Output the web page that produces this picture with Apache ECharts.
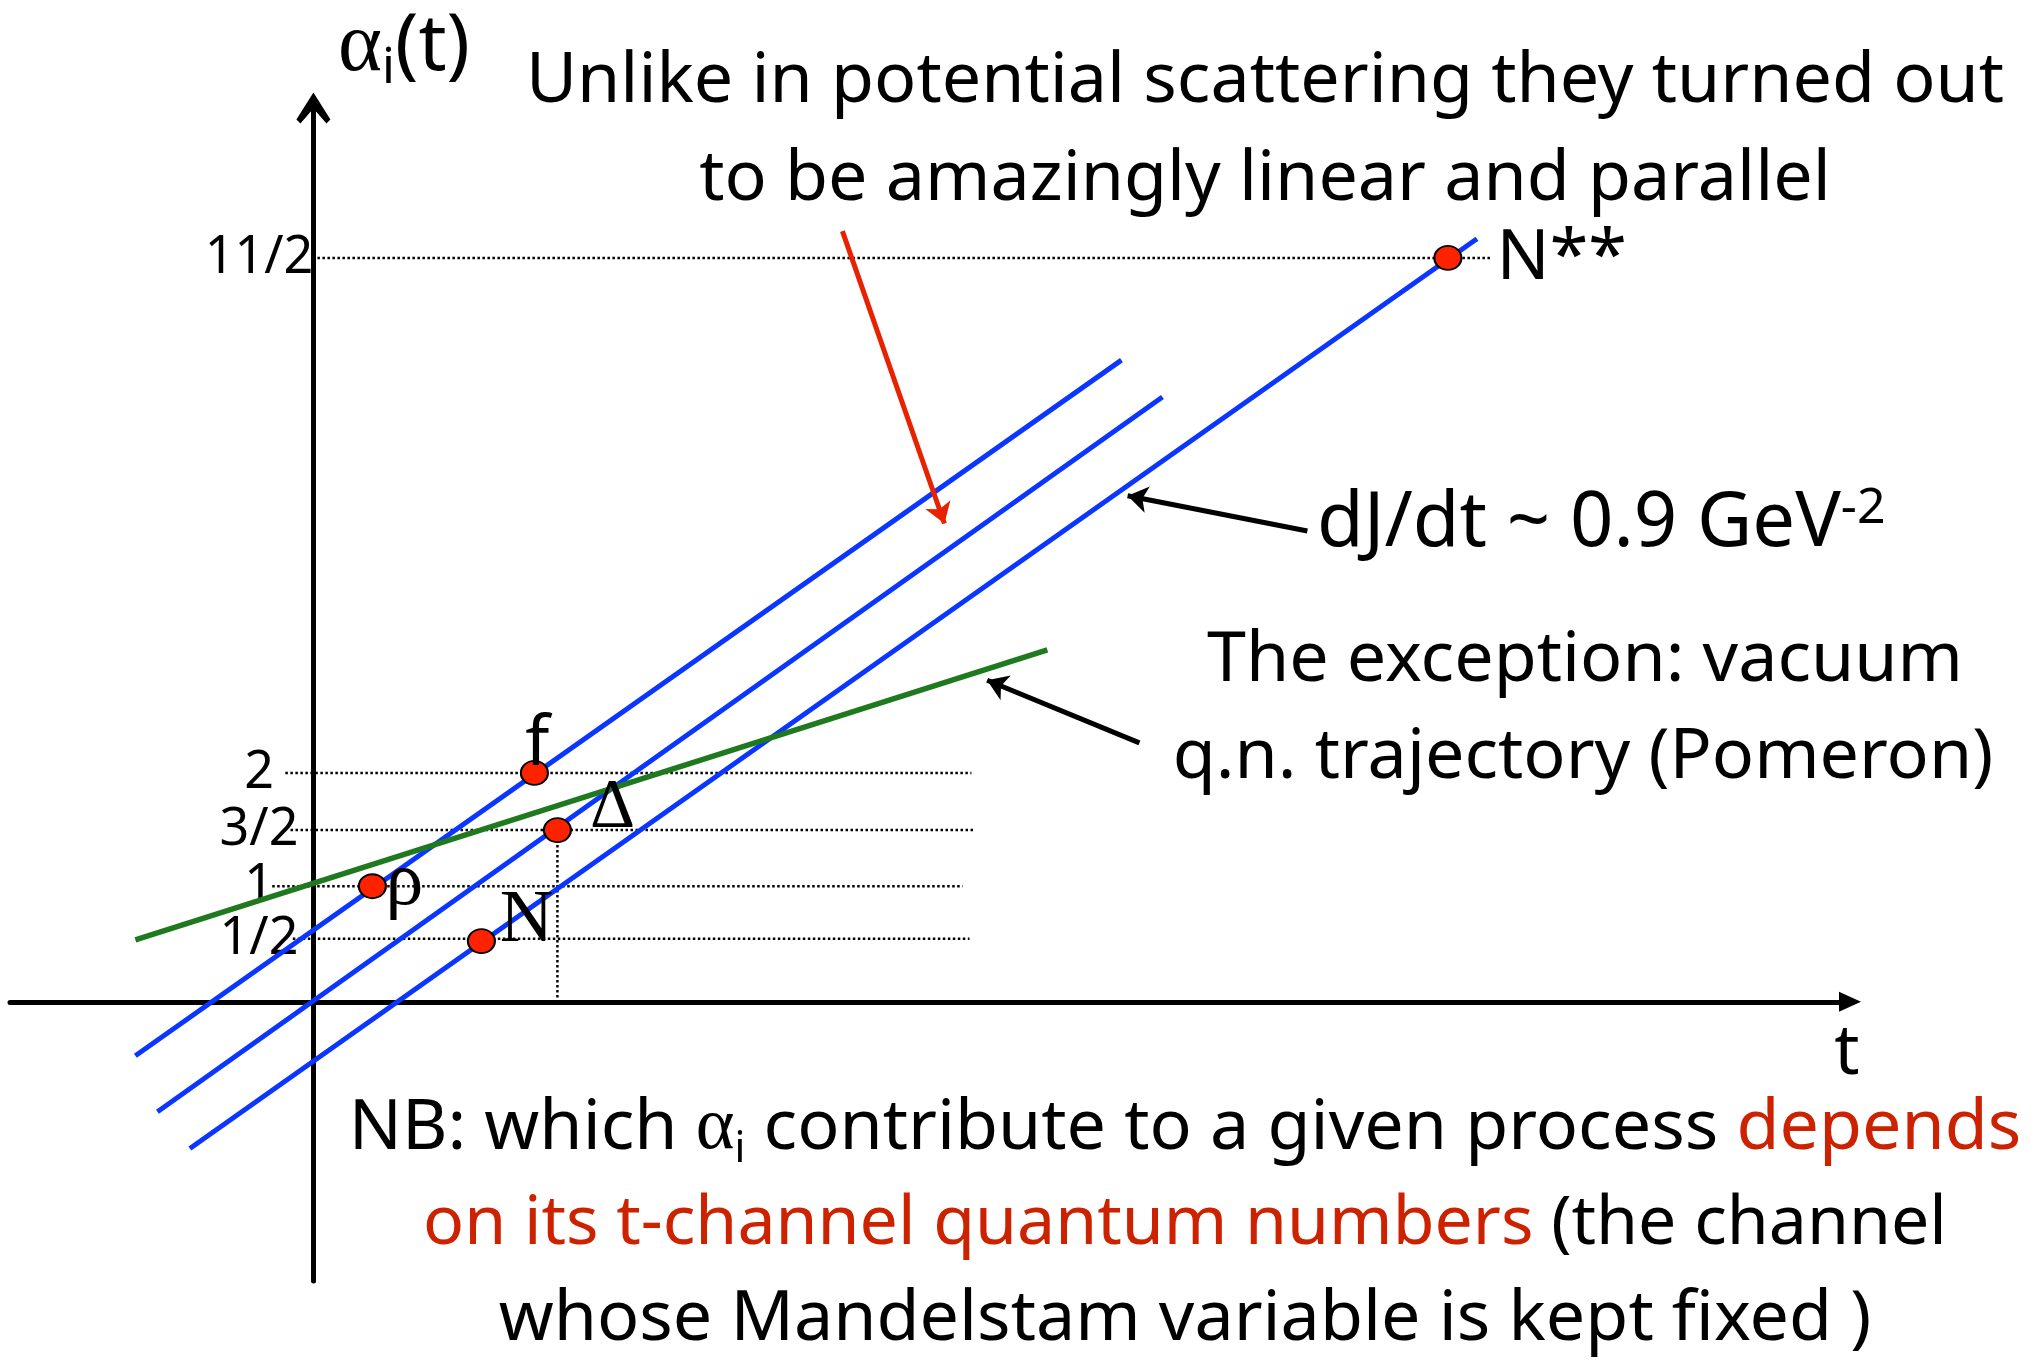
<!DOCTYPE html>
<html>
<head>
<meta charset="utf-8">
<script src="https://cdn.jsdelivr.net/npm/echarts@6/dist/echarts.min.js"></script>
<style>html,body{margin:0;padding:0;background:#fff}#chart{width:2039px;height:1363px}</style>
</head>
<body>
<div id="chart"></div>
<script>
// y ticks (positions as they sit in the sketch) and their labels
var tickVals = [0.55, 1.01, 1.5, 2.0, 6.5];
var tickText = ['1/2', '1', '3/2', '2', '11/2'];
// dotted guide lines, start / end t for each tick
var guideStart = [-0.18, -0.36, -0.20, -0.245, 0.035];
var guideEnd = [5.73, 5.67, 5.78, 5.747, 10.28];
var deltaDrop = [[2.131, 1.5], [2.131, 0]];

// trajectories
var trajA = [[-1.555, -0.472], [7.057, 5.607]];   // rho, f
var trajB = [[-1.362, -0.961], [7.415, 5.284]];   // Delta
var trajC = [[-1.079, -1.282], [10.162, 6.668]];  // N, N**
var pomeron = [[-1.555, 0.541], [6.41, 3.074]];

// resonances
var ptNames = ['f', 'Δ', 'ρ', 'N', 'N**'];
var ptT = [1.93, 2.131, 0.515, 1.467, 9.908];
var ptJ = [2.0, 1.5, 1.01, 0.53, 6.5];

// annotation arrows
var redArrow = [[4.62, 6.734], [5.511, 4.179]];
var slopeArrow = [[8.681, 4.114], [7.111, 4.422]];
var pomArrow = [[7.214, 2.262], [5.884, 2.809]];

var SANS = 'Noto Sans';
var SERIF = 'Liberation Serif';

var labelStyle = {
    'f': { position: 'inside', offset: [3, -28], fontFamily: SANS, fontSize: 70 },
    'Δ': { position: 'inside', offset: [55, -22], fontFamily: SERIF, fontSize: 70 },
    'ρ': { position: 'inside', offset: [32, -2], fontFamily: SERIF, fontSize: 76 },
    'N': { position: 'inside', offset: [45, -20], fontFamily: SERIF, fontSize: 74 },
    'N**': { position: 'right', distance: 34, offset: [0, 1], fontFamily: SANS, fontSize: 70 }
};

var chart = echarts.init(document.getElementById('chart'));

var series = [];
tickVals.forEach(function (v, i) {
    series.push({
        type: 'line', data: [[guideStart[i], v], [guideEnd[i], v]],
        showSymbol: false, silent: true, z: 1,
        lineStyle: { color: '#000', width: 2.5, type: 'dotted' }
    });
});
series.push({
    type: 'line', data: deltaDrop, showSymbol: false, silent: true, z: 1,
    lineStyle: { color: '#000', width: 2.5, type: 'dotted' }
});
[trajA, trajB, trajC].forEach(function (d) {
    series.push({
        type: 'line', data: d, showSymbol: false, silent: true, z: 3,
        lineStyle: { color: '#0a36ff', width: 5 }
    });
});
series.push({
    type: 'line', data: pomeron, showSymbol: false, silent: true, z: 3,
    lineStyle: { color: '#1f7a1f', width: 5.5 }
});
series.push({
    type: 'lines', coordinateSystem: 'cartesian2d', silent: true, z: 4,
    symbol: ['none', 'arrow'], symbolSize: 20,
    lineStyle: { color: '#e82200', width: 5, opacity: 1 },
    data: [{ coords: redArrow }]
});
series.push({
    type: 'lines', coordinateSystem: 'cartesian2d', silent: true, z: 4,
    symbol: ['none', 'arrow'], symbolSize: 20,
    lineStyle: { color: '#000', width: 5, opacity: 1 },
    data: [{ coords: slopeArrow }, { coords: pomArrow }]
});
series.push({
    type: 'scatter', z: 5, silent: true,
    symbol: 'circle', symbolSize: [27, 24],
    itemStyle: { color: '#ff2200', borderColor: '#000', borderWidth: 2, opacity: 1 },
    data: ptNames.map(function (n, i) {
        return {
            name: n, value: [ptT[i], ptJ[i]],
            label: Object.assign({ show: true, formatter: n, color: '#000', align: n === 'N**' ? 'left' : 'center' }, labelStyle[n])
        };
    })
});

var txt = { fontFamily: SANS, fontSize: 70, lineHeight: 78, fill: '#000' };

var option = {
    animation: false,
    backgroundColor: '#fff',
    grid: { left: 10, right: 189, top: 108, bottom: 82, containLabel: false, outerBoundsMode: 'none' },
    xAxis: {
        type: 'value', min: -2.65, max: 13.42,
        axisLine: { onZero: true, symbol: ['none', 'triangle'], symbolSize: [20, 22], lineStyle: { color: '#000', width: 5 } },
        axisTick: { show: false }, axisLabel: { show: false }, splitLine: { show: false }
    },
    yAxis: {
        type: 'value', min: -2.44, max: 7.81,
        axisLine: {
            onZero: true,
            symbol: ['none', 'path://M17,0 L34,27 L30,31 L17,16 L4,31 L0,27 Z'],
            symbolSize: [34, 32],
            lineStyle: { color: '#000', width: 5 }
        },
        axisTick: { show: false }, splitLine: { show: false },
        axisLabel: {
            customValues: tickVals,
            formatter: function (v) { return tickText[tickVals.indexOf(v)]; },
            // labels stay at the grid edge, so pull them in next to the zero line
            align: 'center', margin: -249, color: '#000',
            fontFamily: SANS, fontSize: 52, hideOverlap: false
        }
    },
    series: series,
    graphic: [
        {
            type: 'text', x: 404, y: 48, z: 10,
            style: {
                text: '{a|α}{s|i}{p|(t)}', align: 'center', verticalAlign: 'middle',
                rich: {
                    a: { fontFamily: SERIF, fontSize: 84, lineHeight: 92, fill: '#000' },
                    s: { fontFamily: SANS, fontSize: 50, lineHeight: 50, verticalAlign: 'bottom', fill: '#000' },
                    p: { fontFamily: SANS, fontSize: 78, lineHeight: 92, fill: '#000' }
                }
            }
        },
        { type: 'text', x: 1265, y: 82, style: Object.assign({ text: 'Unlike in potential scattering they turned out', align: 'center', verticalAlign: 'middle' }, txt) },
        { type: 'text', x: 1265, y: 180, style: Object.assign({ text: 'to be amazingly linear and parallel', align: 'center', verticalAlign: 'middle' }, txt) },
        {
            type: 'text', x: 1317, y: 524,
            style: {
                text: '{m|dJ/dt ~ 0.9 GeV}{u|-2}', align: 'left', verticalAlign: 'middle',
                rich: {
                    m: { fontFamily: SANS, fontSize: 76, lineHeight: 80, fill: '#000' },
                    u: { fontFamily: SANS, fontSize: 50, lineHeight: 50, verticalAlign: 'top', fill: '#000' }
                }
            }
        },
        { type: 'text', x: 1585, y: 661, style: Object.assign({ text: 'The exception: vacuum', align: 'center', verticalAlign: 'middle' }, txt) },
        { type: 'text', x: 1583, y: 758, style: Object.assign({ text: 'q.n. trajectory (Pomeron)', align: 'center', verticalAlign: 'middle' }, txt) },
        { type: 'text', x: 1847, y: 1054, style: { text: 't', fontFamily: SANS, fontSize: 70, fill: '#000', align: 'center', verticalAlign: 'middle' } },
        {
            type: 'text', x: 1185, y: 1129,
            style: {
                text: '{b|NB: which }{a|α}{s|i}{b| contribute to a given process }{r|depends}',
                align: 'center', verticalAlign: 'middle',
                rich: {
                    b: { fontFamily: SANS, fontSize: 70, lineHeight: 84, fill: '#000' },
                    r: { fontFamily: SANS, fontSize: 70, lineHeight: 84, fill: '#cc2200' },
                    a: { fontFamily: SERIF, fontSize: 74, lineHeight: 84, fill: '#000' },
                    s: { fontFamily: SANS, fontSize: 42, lineHeight: 46, fill: '#000', verticalAlign: 'bottom' }
                }
            }
        },
        {
            type: 'text', x: 1185, y: 1225,
            style: {
                text: '{r|on its t-channel quantum numbers}{b| (the channel}',
                align: 'center', verticalAlign: 'middle',
                rich: {
                    b: { fontFamily: SANS, fontSize: 68, lineHeight: 84, fill: '#000' },
                    r: { fontFamily: SANS, fontSize: 68, lineHeight: 84, fill: '#cc2200' }
                }
            }
        },
        { type: 'text', x: 1185, y: 1320, style: Object.assign({ text: 'whose Mandelstam variable is kept fixed )', align: 'center', verticalAlign: 'middle' }, txt) }
    ]
};
chart.setOption(option);
</script>
</body>
</html>
